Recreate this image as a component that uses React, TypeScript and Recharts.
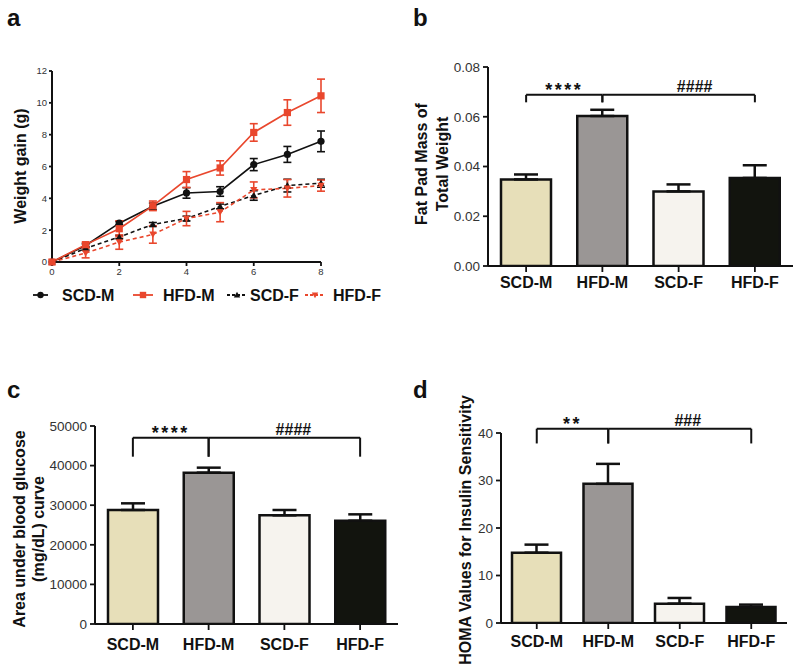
import React from "react";
import {
  LineChart,
  Line,
  BarChart,
  Bar,
  Cell,
  XAxis,
  YAxis,
  ErrorBar,
  ReferenceLine,
} from "recharts";

// panel a: weight gain over weeks
const weeks = [0, 1, 2, 3, 4, 5, 6, 7, 8];
const scdM = [0, 1.04, 2.44, 3.5, 4.34, 4.43, 6.12, 6.76, 7.58];
const scdMErr = [0, 0.1, 0.1, 0.2, 0.33, 0.3, 0.38, 0.5, 0.65];
const hfdM = [0, 1.09, 2.09, 3.53, 5.18, 5.91, 8.14, 9.39, 10.44];
const hfdMErr = [0, 0.15, 0.5, 0.3, 0.5, 0.45, 0.55, 0.8, 1.05];
const scdF = [0, 0.85, 1.57, 2.36, 2.73, 3.49, 4.18, 4.8, 4.95];
const scdFErr = [0, 0.1, 0.1, 0.12, 0.15, 0.15, 0.3, 0.4, 0.25];
const hfdF = [0, 0.56, 1.25, 1.73, 2.73, 3.13, 4.53, 4.63, 4.8];
const hfdFErr = [0, 0.3, 0.45, 0.55, 0.45, 0.6, 0.5, 0.55, 0.35];

// panels b, c, d
const groups = ["SCD-M", "HFD-M", "SCD-F", "HFD-F"];
const fatPad = [0.0348, 0.0603, 0.03, 0.0354];
const fatPadErr = [0.002, 0.0025, 0.0028, 0.0051];
const auc = [28790, 38215, 27440, 26090];
const aucErr = [1680, 1265, 1350, 1600];
const homa = [14.8, 29.3, 4.07, 3.37];
const homaErr = [1.7, 4.2, 1.2, 0.5];

const RED = "#e9472d";
const INK = "#111";
const barColors = ["#e7dfb9", "#9a9695", "#f6f3ee", "#12140e"];
const FONT = "'Liberation Sans', Arial, sans-serif";

const weekData = weeks.map((w, i) => ({
  week: w,
  scdM: scdM[i],
  scdMErr: scdMErr[i],
  hfdM: hfdM[i],
  hfdMErr: hfdMErr[i],
  scdF: scdF[i],
  scdFErr: scdFErr[i],
  hfdF: hfdF[i],
  hfdFErr: hfdFErr[i],
}));

const makeBars = (vals: number[], errs: number[]) =>
  groups.map((g, i) => ({ group: g, value: vals[i], err: [0, errs[i]] }));

type Shape = "circle" | "square" | "tri" | "itri";

function marker(shape: Shape, x: number, y: number, color: string, s = 3.6) {
  if (shape === "circle") return <circle cx={x} cy={y} r={s} fill={color} />;
  if (shape === "square")
    return <rect x={x - s} y={y - s} width={s * 2} height={s * 2} fill={color} />;
  if (shape === "tri")
    return <polygon points={`${x},${y - s} ${x - s},${y + s * 0.8} ${x + s},${y + s * 0.8}`} fill={color} />;
  return <polygon points={`${x},${y + s} ${x - s},${y - s * 0.8} ${x + s},${y - s * 0.8}`} fill={color} />;
}

const dotFor = (shape: Shape, color: string) => (p: any) =>
  <g key={`${shape}-${p.index}`}>{marker(shape, p.cx, p.cy, color)}</g>;

const axisLine = { stroke: INK, strokeWidth: 2 };
const tickLine = { stroke: INK, strokeWidth: 1.8 };
const numTick = { fontSize: 13.5, fill: "#333", fontFamily: FONT };
const catTick = { fontSize: 16, fontWeight: "bold", fill: INK, fontFamily: FONT };

function GroupBars({ data, domain, ticks, fmt, margin, barSize, brackets }: any) {
  return (
    <BarChart width={400} height={margin.h} data={data} margin={margin.m}>
      <XAxis
        dataKey="group"
        axisLine={axisLine}
        tickLine={tickLine}
        tickSize={6}
        tickMargin={margin.tm}
        tick={catTick}
        interval={0}
        height={margin.xh}
      />
      <YAxis
        domain={domain}
        ticks={ticks}
        tickFormatter={fmt}
        axisLine={axisLine}
        tickLine={tickLine}
        tickSize={5}
        tickMargin={3}
        tick={numTick}
        width={60}
        allowDataOverflow
      />
      <Bar dataKey="value" barSize={barSize} stroke={INK} strokeWidth={2.5} isAnimationActive={false}>
        {data.map((d: any, i: number) => (
          <Cell key={d.group} fill={barColors[i]} />
        ))}
        <ErrorBar dataKey="err" direction="y" width={12} strokeWidth={2.5} stroke={INK} />
      </Bar>
      {brackets.map((b: any, k: number) => [
        <ReferenceLine
          key={`h${k}`}
          segment={[{ x: b.from, y: b.y }, { x: b.to, y: b.y }]}
          stroke={INK}
          strokeWidth={2}
          ifOverflow="visible"
          label={{
            value: b.text,
            position: "top",
            offset: 4,
            dx: b.dx || 0,
            dy: b.text.startsWith("*") ? 5 : 1,
            fontSize: b.text.startsWith("*") ? 18 : 16,
            fontWeight: "bold",
            fill: INK,
            fontFamily: FONT,
            letterSpacing: b.text.startsWith("*") ? 2.5 : 0,
          }}
        />,
        <ReferenceLine
          key={`l${k}`}
          segment={[{ x: b.from, y: b.y }, { x: b.from, y: b.leg }]}
          stroke={INK}
          strokeWidth={2}
          ifOverflow="visible"
        />,
        <ReferenceLine
          key={`r${k}`}
          segment={[{ x: b.to, y: b.y }, { x: b.to, y: b.leg }]}
          stroke={INK}
          strokeWidth={2}
          ifOverflow="visible"
        />,
      ])}
    </BarChart>
  );
}

function RotText({ x, y, lines, gap = 20, size = 16 }: any) {
  const n = lines.length;
  return (
    <g transform={`translate(${x},${y}) rotate(-90)`}>
      {lines.map((t: string, i: number) => (
        <text
          key={t}
          x={0}
          y={(i - (n - 1) / 2) * gap}
          dy="0.35em"
          textAnchor="middle"
          fontSize={size}
          fontWeight="bold"
          fontFamily={FONT}
          fill={INK}
        >
          {t}
        </text>
      ))}
    </g>
  );
}

const legendItems = [
  { name: "SCD-M", shape: "circle" as Shape, color: INK, dash: undefined, x1: 33, x2: 48, tx: 62 },
  { name: "HFD-M", shape: "square" as Shape, color: RED, dash: undefined, x1: 133, x2: 153, tx: 163 },
  { name: "SCD-F", shape: "tri" as Shape, color: INK, dash: "3 2", x1: 227, x2: 247, tx: 250 },
  { name: "HFD-F", shape: "itri" as Shape, color: RED, dash: "3 2", x1: 305, x2: 325, tx: 333 },
];

export default function App() {
  const abs = (left: number, top: number): React.CSSProperties => ({ position: "absolute", left, top });
  return (
    <div style={{ position: "absolute", left: 0, top: 0, width: 800, height: 665, background: "#fff", fontFamily: FONT }}>
      <div style={abs(0, 0)}>
        <LineChart width={340} height={280} data={weekData} margin={{ top: 71, right: 19, bottom: 0, left: 22 }}>
          <XAxis
            dataKey="week"
            type="number"
            domain={[0, 8]}
            ticks={[0, 2, 4, 6, 8]}
            axisLine={axisLine}
            tickLine={tickLine}
            tickSize={4}
            tickMargin={2}
            tick={{ fontSize: 9.5, fill: "#333", fontFamily: FONT }}
            height={18}
          />
          <YAxis
            domain={[0, 12]}
            ticks={[0, 2, 4, 6, 8, 10, 12]}
            axisLine={axisLine}
            tickLine={tickLine}
            tickSize={3}
            tickMargin={2}
            tick={{ fontSize: 9.5, fill: "#333", fontFamily: FONT }}
            width={30}
          />
          <Line dataKey="scdF" stroke={INK} strokeWidth={1.6} strokeDasharray="4 3" dot={dotFor("tri", INK)} isAnimationActive={false}>
            <ErrorBar dataKey="scdFErr" direction="y" width={4} strokeWidth={1.6} stroke={INK} />
          </Line>
          <Line dataKey="hfdF" stroke={RED} strokeWidth={1.6} strokeDasharray="4 3" dot={dotFor("itri", RED)} isAnimationActive={false}>
            <ErrorBar dataKey="hfdFErr" direction="y" width={4} strokeWidth={1.6} stroke={RED} />
          </Line>
          <Line dataKey="scdM" stroke={INK} strokeWidth={1.6} dot={dotFor("circle", INK)} isAnimationActive={false}>
            <ErrorBar dataKey="scdMErr" direction="y" width={4} strokeWidth={1.6} stroke={INK} />
          </Line>
          <Line dataKey="hfdM" stroke={RED} strokeWidth={1.6} dot={dotFor("square", RED)} isAnimationActive={false}>
            <ErrorBar dataKey="hfdMErr" direction="y" width={4} strokeWidth={1.6} stroke={RED} />
          </Line>
        </LineChart>
      </div>

      <div style={abs(400, 0)}>
        <GroupBars
          data={makeBars(fatPad, fatPadErr)}
          domain={[0, 0.08]}
          ticks={[0, 0.02, 0.04, 0.06, 0.08]}
          fmt={(v: number) => v.toFixed(2)}
          margin={{ h: 300, xh: 34, tm: 5, m: { top: 67, right: 7, bottom: 0, left: 28 } }}
          barSize={50}
          brackets={[
            { from: "SCD-M", to: "HFD-M", y: 0.0688, leg: 0.0658, text: "****" },
            { from: "HFD-M", to: "HFD-F", y: 0.0688, leg: 0.0658, text: "####", dx: 16 },
          ]}
        />
      </div>

      <div style={abs(0, 330)}>
        <GroupBars
          data={makeBars(auc, aucErr)}
          domain={[0, 50000]}
          ticks={[0, 10000, 20000, 30000, 40000, 50000]}
          fmt={(v: number) => String(v)}
          margin={{ h: 335, xh: 41, tm: 9, m: { top: 96, right: 2, bottom: 0, left: 35 } }}
          barSize={50}
          brackets={[
            { from: "SCD-M", to: "HFD-M", y: 47050, leg: 42250, text: "****" },
            { from: "HFD-M", to: "HFD-F", y: 47050, leg: 42250, text: "####", dx: 9 },
          ]}
        />
      </div>

      <div style={abs(400, 330)}>
        <GroupBars
          data={makeBars(homa, homaErr)}
          domain={[0, 40]}
          ticks={[0, 10, 20, 30, 40]}
          fmt={(v: number) => String(v)}
          margin={{ h: 335, xh: 42, tm: 7, m: { top: 103, right: 13, bottom: 0, left: 41 } }}
          barSize={49}
          brackets={[
            { from: "SCD-M", to: "HFD-M", y: 40.9, leg: 37.8, text: "**" },
            { from: "HFD-M", to: "HFD-F", y: 40.9, leg: 37.8, text: "###", dx: 8 },
          ]}
        />
      </div>

      <svg width={800} height={665} style={{ position: "absolute", left: 0, top: 0, pointerEvents: "none" }}>
        {[
          ["a", 7, 26],
          ["b", 413, 26],
          ["c", 7, 398],
          ["d", 413, 398],
        ].map(([t, x, y]) => (
          <text key={t as string} x={x as number} y={y as number} fontSize={24} fontWeight="bold" fontFamily={FONT} fill={INK}>
            {t}
          </text>
        ))}
        <RotText x={20} y={166} lines={["Weight gain (g)"]} />
        <RotText x={432} y={164} lines={["Fat Pad Mass of", "Total Weight"]} gap={21} />
        <RotText x={29} y={529} lines={["Area under blood glucose", "(mg/dL) curve"]} gap={19} />
        <RotText x={465} y={530} lines={["HOMA Values for Insulin Sensitivity"]} />
        {legendItems.map((it) => (
          <g key={it.name}>
            <line x1={it.x1} x2={it.x2} y1={295} y2={295} stroke={it.color} strokeWidth={1.8} strokeDasharray={it.dash} />
            {marker(it.shape, (it.x1 + it.x2) / 2, 295, it.color, 3.2)}
            <text x={it.tx} y={295} dy="0.35em" fontSize={16} fontWeight="bold" fontFamily={FONT} fill={INK}>
              {it.name}
            </text>
          </g>
        ))}
      </svg>
    </div>
  );
}
